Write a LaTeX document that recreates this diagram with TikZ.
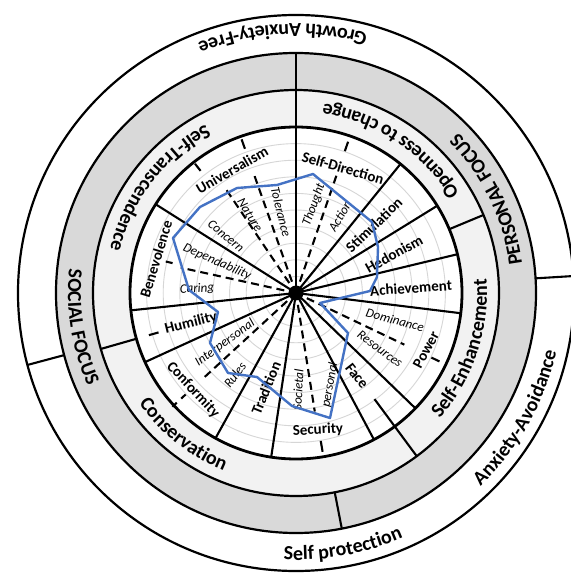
\documentclass[tikz,border=0pt]{standalone}
\usepackage{fontspec}
\setmainfont{Carlito}
\usetikzlibrary{decorations.text}
\definecolor{bandgray}{HTML}{D9D9D9}
\definecolor{bandlight}{HTML}{F2F2F2}
\definecolor{gridgray}{HTML}{D6D6D6}
\definecolor{profileblue}{HTML}{4472C4}
\newcommand\ringfont{\fontsize{20}{20}\selectfont\bfseries}

\begin{document}
\begin{tikzpicture}[x=1pt,y=1pt,
  ring/.style={line width=2.2pt},
  divider/.style={line width=2.1pt},
  sector/.style={line width=2.1pt},
  subline/.style={line width=2.1pt, dash pattern=on 8pt off 5pt},
  valuelabel/.style={font=\fontsize{15}{15}\selectfont\bfseries, inner sep=0pt},
  sublabel/.style={font=\fontsize{13}{13}\selectfont\itshape, inner sep=0pt},
  ringtext/.style={decorate, decoration={text along path, text align=center, text={|\ringfont|#1}}},
]
\useasboundingbox (-296,-284) rectangle (274,293);
\fill[white] (-296,-284) rectangle (274,293);

% concentric bands
\draw[ring, fill=white] (0,0) circle (278);
\draw[ring, fill=bandgray] (0,0) circle (240);
\draw[ring, fill=bandlight] (0,0) circle (203);
\fill[white] (0,0) circle (166);

% radar grid
\foreach \k in {1,...,9}
  \draw[gridgray, line width=0.9pt] (0,0) circle ({16.6*\k});

\draw[line width=2.8pt] (0,0) circle (166);

% band dividers
\draw[divider] (3.5:240) -- (3.5:278);
\draw[divider] (195:240) -- (195:278);
\draw[divider] (-79:203) -- (-79:240);
\draw[divider] (22.6:166) -- (22.6:203);
\draw[divider] (-53.5:132) -- (-53.5:203);
\draw[divider] (196:166) -- (196:203);
\draw[divider] (196:143) -- (196:153);

% value sectors
\foreach \a/\len in {90/240, 51/166, 31.7/166, 13.5/166, -7/166, -44/166, -62/166,
                     -98.6/166, -119/166, 204.6/166, 186/166, 147.7/166}
  \draw[sector] (0,0) -- (\a:\len);

% sub-value boundaries
\foreach \a/\e in {71/124, 109.5/126, 124/124, 167.6/118, 222.6/124, -25.5/120, -81/120}
  \draw[subline] (\a:12) -- (\a:\e);
\draw[divider] (71:150) -- (71:160);
\draw[divider] (109.5:153) -- (109.5:163);
\draw[divider] (128:155) -- (128:164);
\draw[divider] (166.4:127) -- (166.4:134);
\draw[subline, dash pattern=on 6pt off 6pt] (222.6:150) -- (222.6:168);
\draw[divider] (-25.5:150) -- (-25.5:159);
\draw[divider] (-80.5:150) -- (-80.5:161);

\fill (0,0) circle (7.5);

% curved band labels
\path[ringtext={Growth Anxiety-Free}] (53:269) arc[start angle=53, end angle=133, radius=269];
\path[ringtext={Anxiety-Avoidance}] (-70:267) arc[start angle=-70, end angle=11, radius=267];
\path[ringtext={Self protection}] (240:267) arc[start angle=240, end angle=321, radius=267];
\path[ringtext={PERSONAL FOCUS}] (-14:228) arc[start angle=-14, end angle=66, radius=228];
\path[ringtext={SOCIAL FOCUS}] (149:228) arc[start angle=149, end angle=229, radius=228];
\path[ringtext={Openness to change}] (16:191) arc[start angle=16, end angle=97, radius=191];
\path[ringtext={Self-Transcendence}] (102:191) arc[start angle=102, end angle=183, radius=191];
\path[ringtext={Conservation}] (191:192) arc[start angle=191, end angle=272, radius=192];
\path[ringtext={Self-Enhancement}] (-59:191) arc[start angle=-59, end angle=22, radius=191];

% value labels
\node[valuelabel, rotate=-16] (sd)  at (47,125)  {Self-Direction};
\node[valuelabel, rotate=44]  (st)  at (78,68)   {Stimulation};
\node[valuelabel, rotate=29]  (he)  at (98,39)   {Hedonism};
\node[valuelabel, rotate=4]   (ac)  at (115,5)   {Achievement};
\node[valuelabel, rotate=62]  (po)  at (130,-57) {Power};
\node[valuelabel, rotate=-52] (fa)  at (61,-83)  {Face};
\node[valuelabel, rotate=3]   (se)  at (22,-137) {Security};
\node[valuelabel, rotate=68]  (tr)  at (-30,-95) {Tradition};
\node[valuelabel, rotate=-47] (co)  at (-103,-97) {Conformity};
\node[valuelabel, rotate=14]  (hu)  at (-105,-30) {Humility};
\node[valuelabel, rotate=73]  (be)  at (-140,34) {Benevolence};
\node[valuelabel, rotate=30]  (un)  at (-64,123) {Universalism};

% sub-value labels
\node[sublabel, rotate=70]  (th) at (18,88)   {Thought};
\node[sublabel, rotate=60]  (ax) at (44,77)   {Action};
\node[sublabel, rotate=-15] (dm) at (99,-27)  {Dominance};
\node[sublabel, rotate=-36] (rs) at (84,-56)  {Resources};
\node[sublabel, rotate=80]  (pe) at (34,-92)  {personal};
\node[sublabel, rotate=87]  (so) at (2,-97)   {Societal};
\node[sublabel, rotate=53]  (ru) at (-61,-82) {Rules};
\node[sublabel, rotate=36]  (ip) at (-71,-50) {Interpersonal};
\node[sublabel, rotate=3]   (ca) at (-99,4)   {Caring};
\node[sublabel, rotate=-24] (de) at (-79,31)  {Dependability};
\node[sublabel, rotate=-40] (cn) at (-70,57)  {Concern};
\node[sublabel, rotate=-58] (na) at (-46,78)  {Nature};
\node[sublabel, rotate=-76] (to) at (-15,81)  {Tolerance};

% profile
\draw[profileblue, line width=2.4pt, line join=round]
  (17,119) -- (49,93) -- (76,71) -- (82,46) -- (81,16) -- (74,2) -- (24,-10)
  -- (52,-40) -- (34,-125) -- (-4,-113) -- (-39,-84) -- (-68,-80) -- (-86,-50)
  -- (-78,-19) -- (-107,3) -- (-123,55) -- (-96,86) -- (-59,105) -- (-19,108) -- cycle;
\end{tikzpicture}
\end{document}
